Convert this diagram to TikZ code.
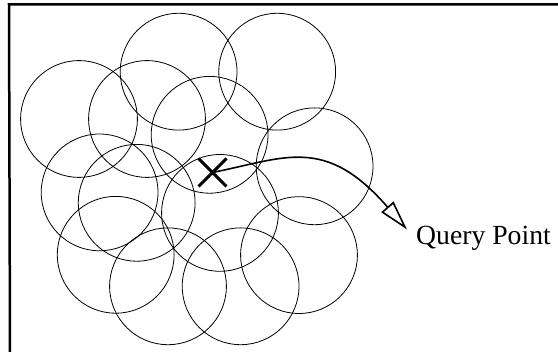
\documentclass[tikz,border=0pt]{standalone}
\usepackage{fontspec}
\setmainfont{Liberation Serif}
\usetikzlibrary{shapes.misc,arrows.meta}
\begin{document}
\begin{tikzpicture}[x=1pt,y=-1pt,
  disc/.style={draw,circle,line width=0.8pt,minimum size=116.8pt,inner sep=0pt},
  qmark/.style={draw,cross out,line width=3pt,minimum size=25pt,inner sep=0pt},
  lbl/.style={inner sep=0pt,anchor=base west,font=\fontsize{27.7}{32}\selectfont},
  conn/.style={line width=1.6pt,-{Triangle[open,length=30pt,width=16pt,line width=1.6pt]}}]
\useasboundingbox (0,0) rectangle (558,352);
\draw[line width=2.5pt] (558,4.5) -- (9,4.5) -- (10,352);
\node[disc] (c1) at (178.6,71.7) {};
\node[disc] (c2) at (277.2,71.7) {};
\node[disc] (c3) at (79,119) {};
\node[disc] (c4) at (147,119) {};
\node[disc] (c5) at (209.6,134.8) {};
\node[disc] (c6) at (314.6,166.3) {};
\node[disc] (c7) at (99.6,192.4) {};
\node[disc] (c8) at (136.7,202.8) {};
\node[disc] (c9) at (220,212.9) {};
\node[disc] (c10) at (115.7,254.8) {};
\node[disc] (c11) at (168,286.3) {};
\node[disc] (c12) at (240.6,286.3) {};
\node[disc] (c13) at (299,255.1) {};
\node[qmark] (q) at (212.5,172.5) {};
\node[lbl] (label) at (416,245) {Query Point};
\coordinate (tip) at (407,229.5);
\draw[conn] (q.center) .. controls (285,158) and (325,135) .. (tip);
\end{tikzpicture}
\end{document}
